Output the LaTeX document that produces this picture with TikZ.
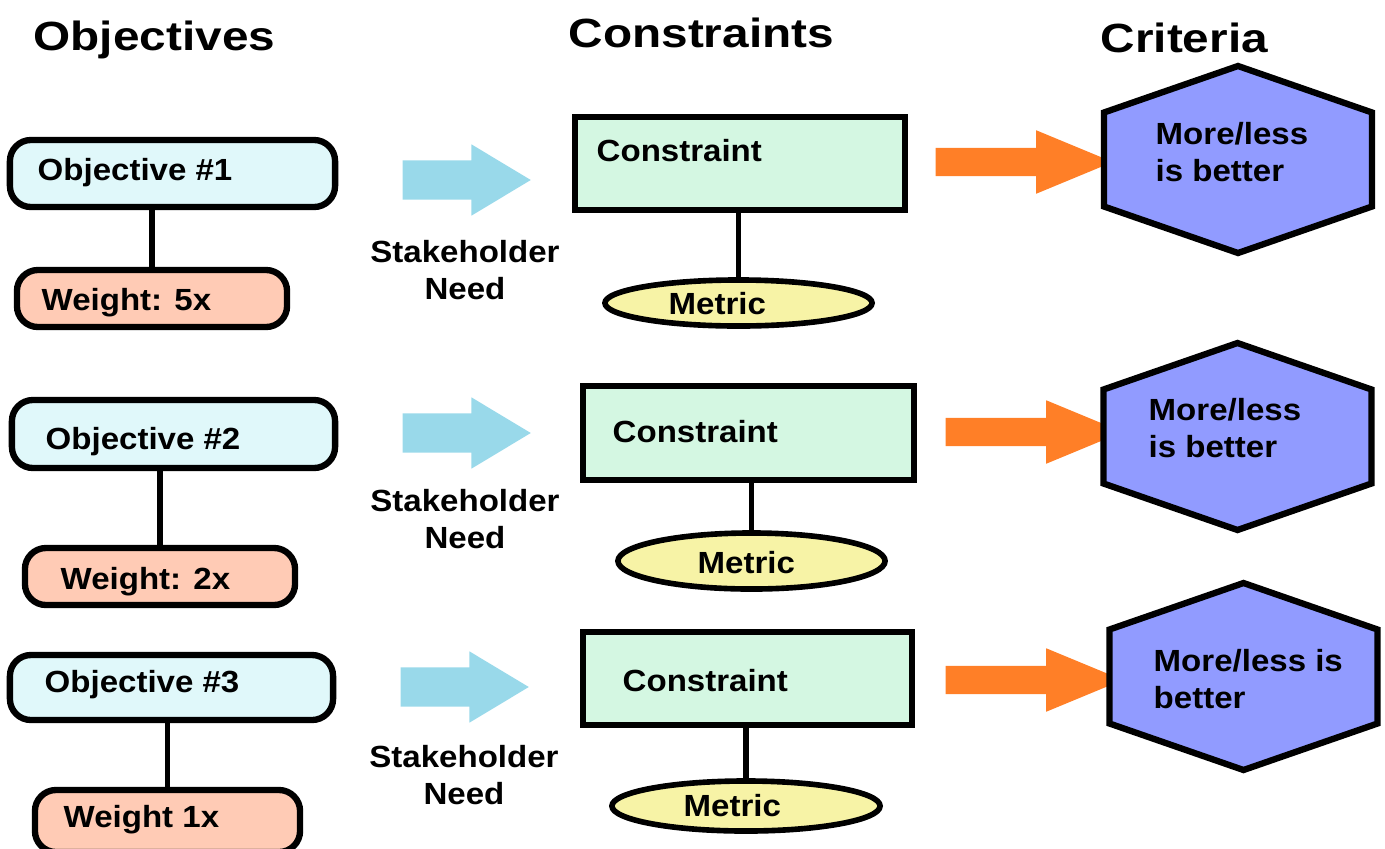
\documentclass[tikz,border=0pt]{standalone}
\usepackage{fontspec}
\setmainfont{Liberation Sans}[FakeStretch=1.08]
\newfontfamily\titlefont{Liberation Sans}[FakeStretch=1.17]
\usepackage{tikz}
\usepackage{xcolor}
\usetikzlibrary{shapes.geometric,shapes.arrows}
\definecolor{ObjCyan}{HTML}{E0F8FA}
\definecolor{WeightPeach}{HTML}{FFCBB5}
\definecolor{ConMint}{HTML}{D4F7E2}
\definecolor{MetricYellow}{HTML}{F7F3A6}
\definecolor{CritViolet}{HTML}{919BFF}
\definecolor{NeedBlue}{HTML}{99D9EA}
\definecolor{CritOrange}{HTML}{FF7F27}
\newcommand{\critshape}[1]{\draw[critbox] (#1) ++(0,-93.5) -- ++(-134,46.5) -- ++(0,94) -- ++(134,46.5) -- ++(134,-46.5) -- ++(0,-94) -- cycle;}

\begin{document}
\begin{tikzpicture}[x=0.01cm, y=-0.01cm,
    txt/.style={inner sep=0pt, font=\fontsize{8.7}{10.5}\selectfont\bfseries},
    heading/.style={inner sep=0pt, font=\titlefont\fontsize{11.6}{14}\selectfont\bfseries},
    objbox/.style={draw, line width=1.8pt, fill=ObjCyan, rounded corners=6pt},
    weightbox/.style={draw, line width=1.8pt, fill=WeightPeach, rounded corners=6pt},
    conbox/.style={draw, line width=1.8pt, fill=ConMint},
    metricbox/.style={ellipse, draw, line width=1.6pt, fill=MetricYellow},
    critbox/.style={draw, line width=1.8pt, fill=CritViolet, line join=miter},
    link/.style={line width=1.6pt},
    needarrow/.style={single arrow, fill=NeedBlue, anchor=tail, inner xsep=0pt, inner ysep=0.19cm,
        single arrow head extend=0.16cm, single arrow tip angle=62, minimum height=1.28cm},
    critarrow/.style={single arrow, fill=CritOrange, anchor=tail, inner xsep=0pt, inner ysep=0.135cm,
        single arrow head extend=0.175cm, single arrow tip angle=45, minimum height=1.77cm}]
    \useasboundingbox (0,0) rectangle (1385,848);

    % Column headings
    \node[heading, anchor=base west] (hobj) at (33,50) {Objectives};
    \node[heading, anchor=base west] (hcon) at (568,47) {Constraints};
    \node[heading, anchor=base west] (hcrit) at (1100,52) {Criteria};

    % Row 1
    \node[objbox, minimum width=3.25cm, minimum height=0.67cm] (obj1) at (172.5,173.5) {};
    \node[weightbox, minimum width=2.70cm, minimum height=0.57cm] (wt1) at (152,298.5) {};
    \draw[link] (wt1.north) -- (wt1.north |- obj1.south);
    \node[txt, anchor=base west] (obj1txt) at (37,180) {Objective \#1};
    \node[txt, anchor=base west] (wt1txt) at (41,310) {Weight: 5x};
    \node[needarrow] (need1) at (402,180) {};
    \node[txt, align=center] (need1txt) at (465,270) {Stakeholder\\Need};
    \node[conbox, minimum width=3.30cm, minimum height=0.93cm] (con1) at (740,163.5) {};
    \node[metricbox, minimum width=2.67cm, minimum height=0.46cm] (met1) at (738.5,303) {};
    \draw[link] (met1.north) -- (met1.north |- con1.south);
    \node[txt, anchor=base west] (con1txt) at (596,161) {Constraint};
    \node[txt, anchor=base west] (met1txt) at (668,314) {Metric};
    \node[critarrow] (arr1) at (935,162) {};
    \coordinate (crit1) at (1238,159.5);
    \critshape{crit1}
    \node[txt, align=left, anchor=west] (crit1txt) at (1155,152) {More/less\\is better};

    % Row 2
    \node[objbox, minimum width=3.23cm, minimum height=0.68cm] (obj2) at (173.5,434) {};
    \node[weightbox, minimum width=2.70cm, minimum height=0.57cm] (wt2) at (160,576.5) {};
    \draw[link] (wt2.north) -- (wt2.north |- obj2.south);
    \node[txt, anchor=base west] (obj2txt) at (45,449) {Objective \#2};
    \node[txt, anchor=base west] (wt2txt) at (60,589) {Weight: 2x};
    \node[needarrow] (need2) at (402,433) {};
    \node[txt, align=center] (need2txt) at (465,519) {Stakeholder\\Need};
    \node[conbox, minimum width=3.31cm, minimum height=0.94cm] (con2) at (748.5,433) {};
    \node[metricbox, minimum width=2.67cm, minimum height=0.56cm] (met2) at (751.5,561) {};
    \draw[link] (met2.north) -- (met2.north |- con2.south);
    \node[txt, anchor=base west] (con2txt) at (612,442) {Constraint};
    \node[txt, anchor=base west] (met2txt) at (697,573) {Metric};
    \node[critarrow] (arr2) at (945,432) {};
    \coordinate (crit2) at (1237.5,436.5);
    \critshape{crit2}
    \node[txt, align=left, anchor=west] (crit2txt) at (1148,428) {More/less\\is better};

    % Row 3
    \node[objbox, minimum width=3.23cm, minimum height=0.65cm] (obj3) at (171.5,687.5) {};
    \node[weightbox, minimum width=2.65cm, minimum height=0.62cm] (wt3) at (167.5,821) {};
    \draw[link] (wt3.north) -- (wt3.north |- obj3.south);
    \node[txt, anchor=base west] (obj3txt) at (44,692) {Objective \#3};
    \node[txt, anchor=base west] (wt3txt) at (63,827) {Weight 1x};
    \node[needarrow] (need3) at (400,687) {};
    \node[txt, align=center] (need3txt) at (464,775) {Stakeholder\\Need};
    \node[conbox, minimum width=3.29cm, minimum height=0.93cm] (con3) at (747.5,678.5) {};
    \node[metricbox, minimum width=2.68cm, minimum height=0.50cm] (met3) at (746,806) {};
    \draw[link] (met3.north) -- (met3.north |- con3.south);
    \node[txt, anchor=base west] (con3txt) at (622,691) {Constraint};
    \node[txt, anchor=base west] (met3txt) at (683,816) {Metric};
    \node[critarrow] (arr3) at (945,680) {};
    \coordinate (crit3) at (1243.5,676.5);
    \critshape{crit3}
    \node[txt, align=left, anchor=west] (crit3txt) at (1153,679) {More/less is\\better};

\end{tikzpicture}
\end{document}
